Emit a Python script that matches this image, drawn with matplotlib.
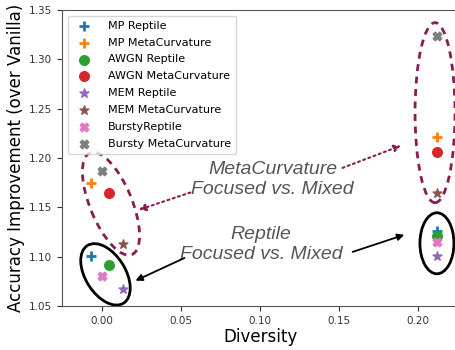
import matplotlib
matplotlib.use("Agg")
import matplotlib.pyplot as plt
from matplotlib.patches import Ellipse
from matplotlib.transforms import ScaledTranslation

labels = ["MP Reptile", "MP MetaCurvature", "AWGN Reptile", "AWGN MetaCurvature",
          "MEM Reptile", "MEM MetaCurvature", "BurstyReptile", "Bursty MetaCurvature"]
markers = ["+", "+", "o", "o", "*", "*", "X", "X"]

# diversity (x) for the mixed / focused runs
x_left = [-0.007, -0.007, 0.0044, 0.0044, 0.013, 0.013, 0.0, 0.0]
x_right = [0.212] * 8

y_left = [1.101, 1.175, 1.091, 1.165, 1.067, 1.113, 1.080, 1.187]
y_right = [1.126, 1.221, 1.121, 1.206, 1.101, 1.165, 1.115, 1.324]

fig = plt.figure(figsize=(4.56, 3.5), dpi=100)
ax = fig.add_axes([0.136, 0.126, 0.87, 0.845])

colors = plt.rcParams["axes.prop_cycle"].by_key()["color"]
sizes = {"+": 55, "o": 48, "*": 45, "X": 38}
for i, lab in enumerate(labels):
    kw = dict(color=colors[i], label=lab, s=sizes[markers[i]])
    if markers[i] == "+":
        kw.update(linewidths=2)
    ax.scatter([x_left[i], x_right[i]], [y_left[i], y_right[i]], marker=markers[i], **kw)

ax.set_xlim(-0.0253, 0.2258)
ax.set_ylim(1.05, 1.35)
ax.set_xticks([0.0, 0.05, 0.10, 0.15, 0.20])
ax.set_yticks([1.05, 1.10, 1.15, 1.20, 1.25, 1.30, 1.35])
ax.tick_params(labelsize=7.5, colors="#333333")
for sp in ax.spines.values():
    sp.set_color("#555555")
ax.set_xlabel("Diversity", fontsize=12, labelpad=2)
ax.set_ylabel("Accuracy Improvement (over Vanilla)", fontsize=12, labelpad=3)

ax.legend(loc="upper left", fontsize=8, labelspacing=0.62, handletextpad=1.2,
          borderpad=0.45, bbox_to_anchor=(0.0, 1.0))

maroon = "#8a1c54"


def ring(cx, cy, w, h, ang, color, ls):
    tr = fig.dpi_scale_trans + ScaledTranslation(cx, cy, ax.transData)
    e = Ellipse((0, 0), w, h, angle=ang, transform=tr, fill=False,
                edgecolor=color, linestyle=ls, linewidth=2, clip_on=False)
    ax.add_patch(e)


ring(0.0057, 1.1537, 1.10, 0.42, -67.6, maroon, (0, (2.5, 2)))
ring(0.2108, 1.246, 0.40, 1.80, 0, maroon, (0, (2.5, 2)))
ring(0.0022, 1.082, 0.68, 0.40, -58, "black", "-")
ring(0.212, 1.1135, 0.34, 0.61, 0, "black", "-")

ax.text(0.108, 1.178, "MetaCurvature\nFocused vs. Mixed", fontsize=14, style="italic",
        color="#555555", ha="center", va="center", linespacing=1.25,
        family=["Liberation Sans", "DejaVu Sans"])
ax.text(0.1006, 1.112, "Reptile\nFocused vs. Mixed", fontsize=14, style="italic",
        color="#555555", ha="center", va="center", linespacing=1.25,
        family=["Liberation Sans", "DejaVu Sans"])

ax.annotate("", xy=(0.0215, 1.1465), xytext=(0.0576, 1.1659),
            arrowprops=dict(arrowstyle="-|>", color=maroon, lw=1.5, linestyle=":"))
ax.annotate("", xy=(0.191, 1.2136), xytext=(0.1506, 1.189),
            arrowprops=dict(arrowstyle="-|>", color=maroon, lw=1.5, linestyle=":"))
ax.annotate("", xy=(0.0196, 1.0744), xytext=(0.0538, 1.0998),
            arrowprops=dict(arrowstyle="-|>", color="black", lw=1.3))
ax.annotate("", xy=(0.193, 1.123), xytext=(0.157, 1.1039),
            arrowprops=dict(arrowstyle="-|>", color="black", lw=1.3))

fig.savefig("out.png", dpi=100)
